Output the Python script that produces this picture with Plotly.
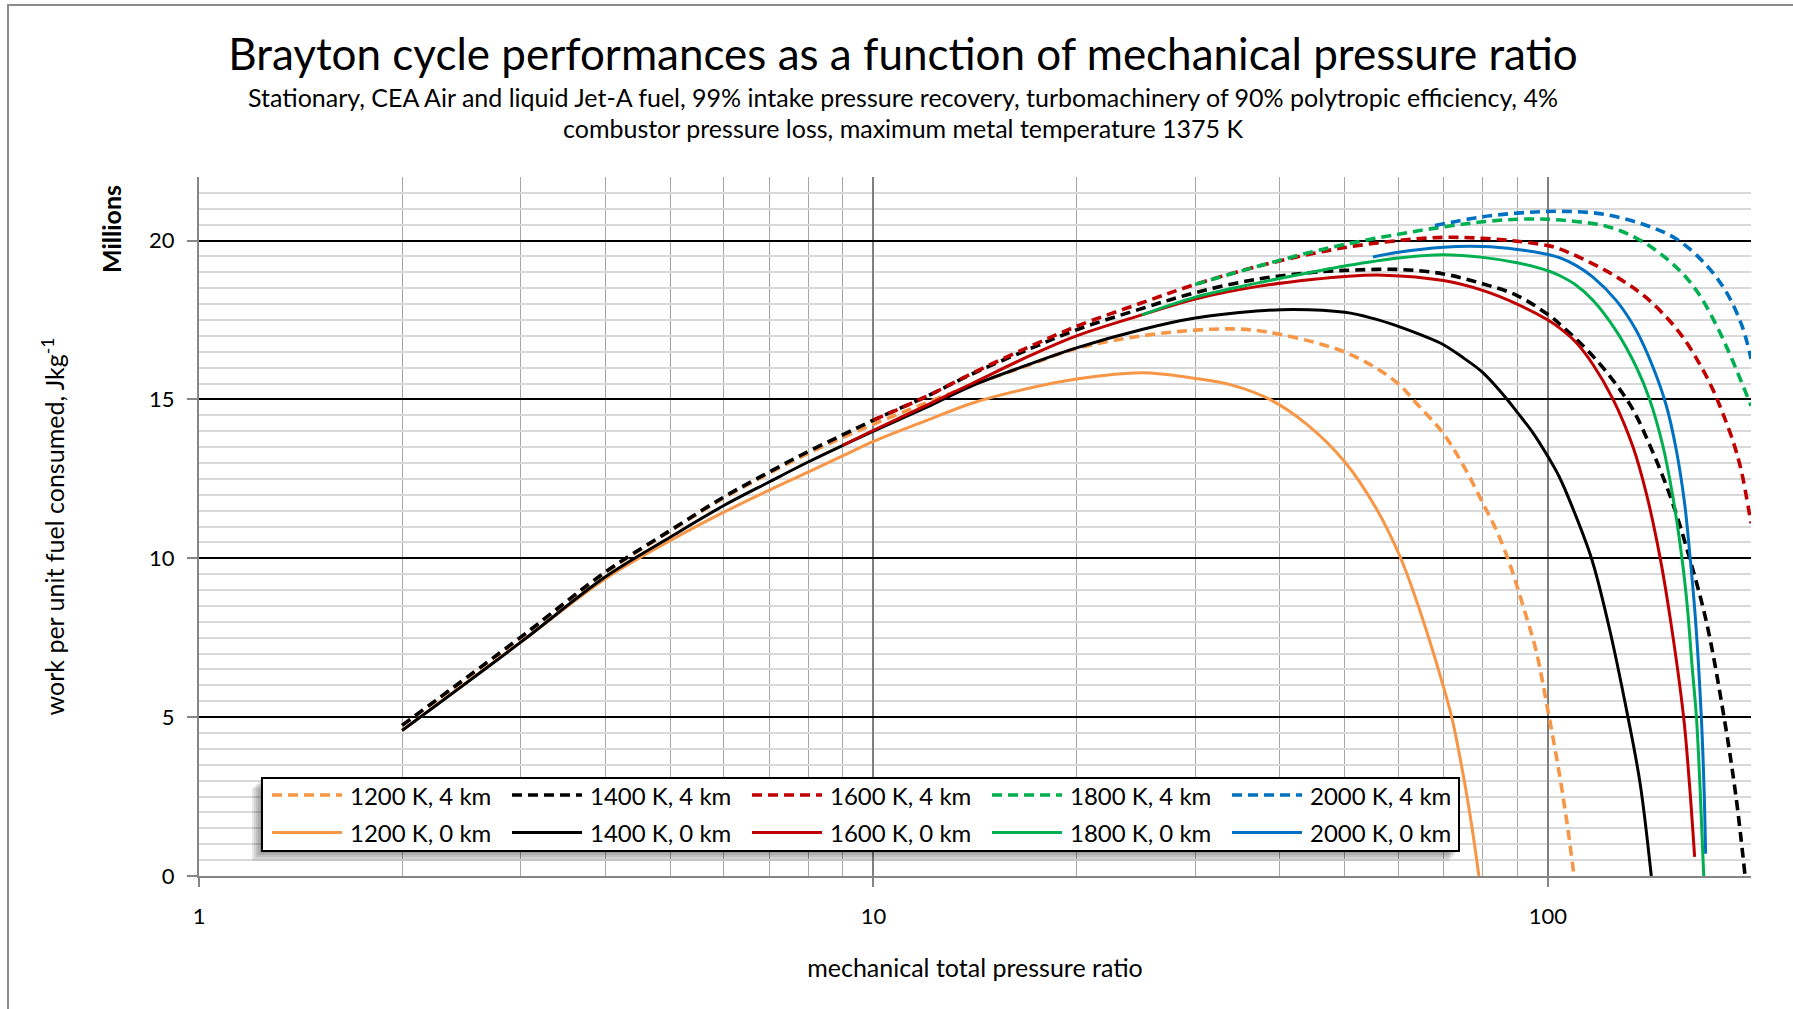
import math
import plotly.graph_objects as go

# ---------------- data (work per unit fuel consumed, millions of J/kg) ----------------
names = ["1200 K, 4 km", "1400 K, 4 km", "1600 K, 4 km", "1800 K, 4 km", "2000 K, 4 km",
         "1200 K, 0 km", "1400 K, 0 km", "1600 K, 0 km", "1800 K, 0 km", "2000 K, 0 km"]
colors = ["#F79646", "#000000", "#C00000", "#00B050", "#0070C0",
          "#F79646", "#000000", "#C00000", "#00B050", "#0070C0"]
dashed = [True, True, True, True, True, False, False, False, False, False]

pr_1200_4 = [2, 3, 4, 5, 6, 7, 8, 9, 10, 12, 14, 17, 20, 25, 30, 34, 37, 40, 45, 50, 55, 60, 64, 70, 75, 80, 84, 88, 92, 96, 100, 104, 107, 109.3]
w_1200_4 = [4.74, 7.5, 9.54, 10.86, 11.9, 12.67, 13.3, 13.8, 14.22, 14.9, 15.45, 16.08, 16.6, 17.0, 17.18, 17.22, 17.17, 17.05, 16.8, 16.49, 16.05, 15.49, 14.85, 13.92, 12.9, 11.75, 10.85, 9.75, 8.45, 7.1, 5.2, 3.2, 1.5, 0.0]

pr_1400_4 = [2, 3, 4, 5, 6, 7, 8, 9, 10, 12, 14, 17, 20, 25, 30, 37, 45, 50, 60, 70, 80, 90, 100, 104, 117.3, 132.2, 142.3, 152.4, 162.2, 172, 182.4, 190, 196]
w_1400_4 = [4.74, 7.52, 9.56, 10.88, 11.93, 12.71, 13.36, 13.88, 14.35, 15.1, 15.8, 16.58, 17.19, 17.86, 18.36, 18.78, 19.0, 19.06, 19.09, 18.95, 18.64, 18.27, 17.67, 17.38, 16.3, 14.85, 13.45, 11.85, 10.0, 7.94, 5.0, 2.5, 0.0]

pr_1600_4 = [10, 12, 14, 17, 20, 25, 30, 37, 45, 50, 60, 70, 80, 90, 100, 104, 119.3, 130.7, 139.9, 149.8, 158.5, 167.8, 175.7, 181.7, 188, 193.5, 200]
w_1600_4 = [14.35, 15.1, 15.82, 16.65, 17.3, 18.04, 18.62, 19.18, 19.6, 19.78, 20.0, 20.1, 20.07, 19.98, 19.84, 19.74, 19.16, 18.66, 18.2, 17.59, 16.96, 16.12, 15.3, 14.55, 13.7, 12.75, 11.1]

pr_1800_4 = [30, 37, 45, 50, 60, 70, 80, 90, 100, 110, 122, 136, 153, 166, 178, 188, 200]
w_1800_4 = [18.62, 19.18, 19.66, 19.88, 20.2, 20.43, 20.59, 20.67, 20.67, 20.6, 20.45, 20.05, 19.27, 18.43, 17.3, 16.2, 14.8]

pr_2000_4 = [68, 79, 91, 104, 120, 138, 155, 172, 184.5, 194.3, 200]
w_2000_4 = [20.47, 20.73, 20.87, 20.92, 20.84, 20.52, 20.05, 19.21, 18.32, 17.27, 16.28]

pr_1200_0 = [2, 3, 4, 5, 6, 7, 8, 9, 10, 12, 14, 17, 20, 25, 30, 34, 38.7, 44, 50, 55.7, 60.5, 64, 67, 70, 72, 75, 77, 79]
w_1200_0 = [4.58, 7.36, 9.35, 10.56, 11.45, 12.14, 12.71, 13.22, 13.68, 14.34, 14.88, 15.35, 15.64, 15.84, 15.66, 15.45, 15.0, 14.2, 13.03, 11.55, 10.0, 8.6, 7.3, 5.95, 5.0, 3.1, 1.65, 0.0]

pr_1400_0 = [2, 3, 4, 5, 6, 7, 8, 9, 10, 12, 14, 17, 20, 25, 30, 37, 42, 50, 55, 60, 65, 70, 75, 80, 87, 90, 95, 100, 104, 108, 116, 123, 131.4, 137, 142.3]
w_1400_0 = [4.58, 7.36, 9.41, 10.67, 11.66, 12.4, 13.03, 13.55, 14.0, 14.76, 15.43, 16.1, 16.62, 17.2, 17.56, 17.78, 17.83, 17.74, 17.55, 17.3, 17.02, 16.72, 16.3, 15.85, 15.0, 14.6, 13.95, 13.2, 12.55, 11.75, 10.0, 7.9, 5.0, 2.9, 0.0]

pr_1600_0 = [9, 10, 12, 14, 17, 20, 25, 30, 37, 45, 50, 57, 70, 80, 90, 100, 104, 110, 116.6, 124.9, 133.7, 139.9, 146.4, 152, 158.9, 162, 165]
w_1600_0 = [13.55, 14.03, 14.82, 15.5, 16.36, 17.0, 17.66, 18.16, 18.55, 18.78, 18.87, 18.91, 18.74, 18.43, 18.0, 17.5, 17.25, 16.8, 16.1, 15.0, 13.5, 12.04, 10.1, 8.03, 5.0, 2.97, 0.6]

pr_1800_0 = [25, 30, 37, 45, 50, 60, 70, 80, 90, 100, 104, 110, 116.6, 126.3, 135.2, 141.5, 148, 153.2, 158, 161, 163.5, 166, 168, 170.2]
w_1800_0 = [17.66, 18.22, 18.66, 19.02, 19.2, 19.45, 19.55, 19.47, 19.3, 19.05, 18.9, 18.6, 18.12, 17.15, 16.02, 15.0, 13.55, 11.93, 10.0, 8.43, 6.65, 5.0, 2.87, 0.0]

pr_2000_0 = [55, 60, 70, 80, 90, 100, 104, 110, 116.6, 126.3, 135.2, 143.1, 149.8, 155, 159.5, 162.5, 165.5, 168.8, 170.3, 171.3]
w_2000_0 = [19.48, 19.63, 19.79, 19.81, 19.72, 19.56, 19.46, 19.22, 18.85, 18.11, 17.17, 16.02, 14.8, 13.4, 11.7, 10.0, 8.05, 5.0, 2.9, 0.7]

series_x = [pr_1200_4, pr_1400_4, pr_1600_4, pr_1800_4, pr_2000_4,
            pr_1200_0, pr_1400_0, pr_1600_0, pr_1800_0, pr_2000_0]
series_y = [w_1200_4, w_1400_4, w_1600_4, w_1800_4, w_2000_4,
            w_1200_0, w_1400_0, w_1600_0, w_1800_0, w_2000_0]

y_ticks = [0, 5, 10, 15, 20]
x_ticks = [1, 10, 100]
x_minor = [2, 3, 4, 5, 6, 7, 8, 9, 20, 30, 40, 50, 60, 70, 80, 90, 200]

title = "Brayton cycle performances as a function of mechanical pressure ratio"
sub1 = "Stationary, CEA Air and liquid Jet-A fuel, 99% intake pressure recovery, turbomachinery of 90% polytropic efficiency, 4%"
sub2 = "combustor pressure loss, maximum metal temperature 1375 K"

# ---------------- layout geometry (page pixels) ----------------
W, H = 1793, 1009
L, R, T, B = 199, 42, 177, 133
PW, PH = W - L - R, H - T - B
FONT = "Lato, 'Open Sans', sans-serif"
DASH = "10px,6px"


def px(X):
    return (X - L) / PW


def py(Y):
    return (H - B - Y) / PH


fig = go.Figure()
for xs, ys, nm, col, dsh in zip(series_x, series_y, names, colors, dashed):
    fig.add_trace(go.Scatter(
        x=xs, y=ys, name=nm, mode="lines",
        line=dict(color=col, width=3.6 if dsh else 3.0, dash=DASH if dsh else "solid",
                  shape="spline", smoothing=1.0),
        showlegend=False))

shapes = []
# outer chart border (left and top)
shapes.append(dict(type="path", xref="paper", yref="paper",
                   path=f"M {px(8)} {py(1020)} L {px(8)} {py(5)} L {px(1800)} {py(5)}",
                   line=dict(color="#8c8c8c", width=2)))

# legend box with soft shadow
LX0, LX1, LY0, LY1 = 262, 1459, 778, 851
for k in (2, 4, 6, 8, 10):
    shapes.append(dict(type="rect", xref="paper", yref="paper", layer="above",
                       x0=px(LX0 - k), x1=px(LX1 - k), y0=py(LY0 + k), y1=py(LY1 + k),
                       line=dict(width=0), fillcolor="rgba(0,0,0,0.09)"))
shapes.append(dict(type="rect", xref="paper", yref="paper", layer="above",
                   x0=px(LX0), x1=px(LX1), y0=py(LY0), y1=py(LY1),
                   line=dict(color="#000000", width=2), fillcolor="#ffffff"))

annotations = []
row_y = [795, 832.5]
for i, (nm, col, dsh) in enumerate(zip(names, colors, dashed)):
    row = 0 if dsh else 1
    col_i = i % 5
    x0 = 272 + 240 * col_i
    shapes.append(dict(type="line", xref="paper", yref="paper", layer="above",
                       x0=px(x0), x1=px(x0 + 70), y0=py(row_y[row]), y1=py(row_y[row]),
                       line=dict(color=col, width=3.6 if dsh else 3.0, dash=DASH if dsh else "solid")))
    annotations.append(dict(xref="paper", yref="paper", x=px(x0 + 76), y=py(row_y[row]),
                            text=nm, showarrow=False, xanchor="left", yanchor="middle",
                            font=dict(family=FONT, size=24, color="#000000")))

# subtitle lines
annotations.append(dict(xref="paper", yref="paper", x=px(903), y=py(97), text=sub1, showarrow=False,
                        xanchor="center", yanchor="middle", font=dict(family=FONT, size=25, color="#000")))
annotations.append(dict(xref="paper", yref="paper", x=px(903), y=py(128), text=sub2, showarrow=False,
                        xanchor="center", yanchor="middle", font=dict(family=FONT, size=25, color="#000")))
# display-units label
annotations.append(dict(xref="paper", yref="paper", x=px(111), y=py(229), text="<b>Millions</b>",
                        showarrow=False, textangle=-90, xanchor="center", yanchor="middle",
                        font=dict(family=FONT, size=25, color="#000")))

fig.update_layout(
    width=W, height=H,
    margin=dict(l=L, r=R, t=T, b=B, autoexpand=False),
    paper_bgcolor="#ffffff", plot_bgcolor="#ffffff",
    font=dict(family=FONT, color="#000000"),
    title=dict(text=title, x=903 / W, xanchor="center", y=1 - 55 / H, yanchor="middle",
               yref="container", xref="container", font=dict(family=FONT, size=44, color="#000")),
    shapes=shapes, annotations=annotations,
    showlegend=False,
)

fig.update_xaxes(
    type="log", range=[0, math.log10(200)],
    tickmode="array", tickvals=x_ticks, ticktext=[str(v) for v in x_ticks],
    ticks="outside", ticklen=9, tickwidth=2, tickcolor="#868686",
    ticklabelstandoff=11,
    tickfont=dict(family=FONT, size=22, color="#000"),
    showgrid=True, gridcolor="#7f7f7f", gridwidth=2,
    minor=dict(tickmode="array", tickvals=x_minor, showgrid=True, gridcolor="#a6a6a6", gridwidth=1, ticks=""),
    showline=True, linecolor="#868686", linewidth=2,
    zeroline=False, automargin=False,
    title=dict(text="mechanical total pressure ratio", standoff=31,
               font=dict(family=FONT, size=25, color="#000")),
)
fig.update_yaxes(
    range=[0, 22],
    tickmode="array", tickvals=y_ticks, ticktext=[str(v) for v in y_ticks],
    ticks="outside", ticklen=10, tickwidth=2, tickcolor="#868686",
    ticklabelstandoff=8,
    tickfont=dict(family=FONT, size=22, color="#000"),
    showgrid=True, gridcolor="#000000", gridwidth=2,
    minor=dict(dtick=0.5, tick0=0, showgrid=True, gridcolor="#d9d9d9", gridwidth=1.5, ticks=""),
    showline=True, linecolor="#868686", linewidth=2,
    zeroline=False, automargin=False,
    title=dict(text="work per unit fuel consumed, Jkg<sup>-1</sup>", standoff=77,
               font=dict(family=FONT, size=25, color="#000")),
)

fig.write_html("out.html", config={"displayModeBar": False},
               post_script="document.body.style.margin='0px';")
